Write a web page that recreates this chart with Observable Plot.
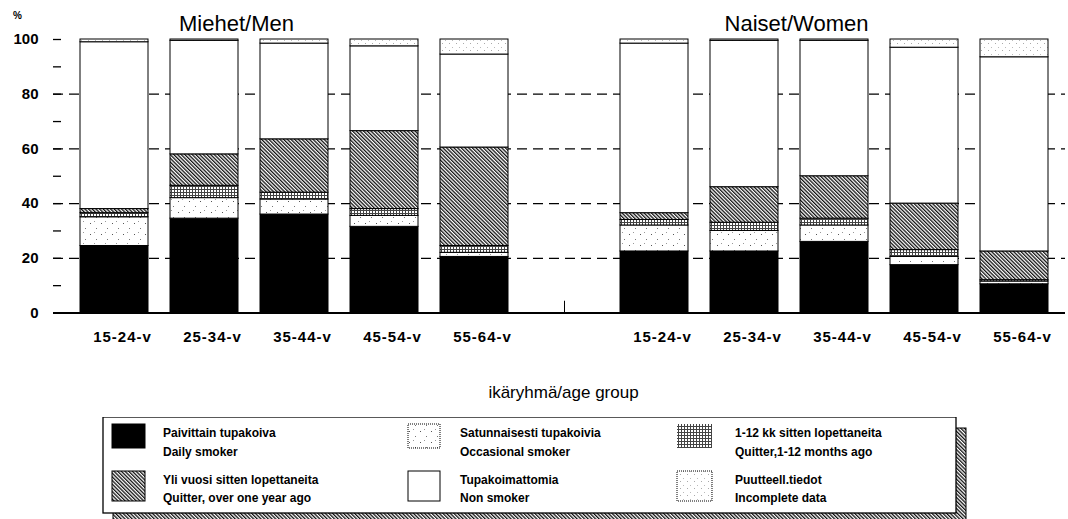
<!DOCTYPE html>
<html><head><meta charset="utf-8">
<script src="https://cdn.jsdelivr.net/npm/d3@7"></script>
<script src="https://cdn.jsdelivr.net/npm/@observablehq/plot@0.6"></script>
<style>
body{margin:0;background:#fff;font-family:"Liberation Sans",Arial,sans-serif;}
#wrap{position:relative;width:1068px;height:519px;overflow:hidden;background:#fff;}
#chart svg{display:block;}
#legend{position:absolute;left:0;top:417px;width:1068px;height:102px;}
</style></head><body><div id="wrap"><div id="chart"></div><div id="legend"></div></div>
<script>
// ---- data ----
const ages = ["15-24-v", "25-34-v", "35-44-v", "45-54-v", "55-64-v"];
const groupTitles = ["Miehet/Men", "Naiset/Women"];
const categories = ["Daily smoker", "Occasional smoker", "Quitter,1-12 months ago", "Quitter, over one year ago", "Non smoker", "Incomplete data"];
const categoriesFi = ["Paivittain tupakoiva", "Satunnaisesti tupakoivia", "1-12 kk sitten lopettaneita", "Yli vuosi sitten lopettaneita", "Tupakoimattomia", "Puutteell.tiedot"];
const yLabels = [0, 20, 40, 60, 80, 100];
const xTitle = "ikäryhmä/age group";

const menDaily      = [24.5, 34.5, 36, 31.5, 20.5];
const menOccasional = [10.5, 7.5, 5.5, 4, 1.5];
const menMonths     = [1.5, 4.5, 2.5, 2.5, 2.5];
const menYear       = [1.5, 11.5, 19.5, 28.5, 36];
const menNon        = [61, 41.5, 35, 31, 34];
const menIncomplete = [1, 0.5, 1.5, 2.5, 5.5];

const womenDaily      = [22.5, 22.5, 26, 17.5, 10.5];
const womenOccasional = [9.5, 7.5, 6, 3, 1];
const womenMonths     = [2, 3, 2.5, 2.5, 0.5];
const womenYear       = [2.5, 13, 15.5, 17, 10.5];
const womenNon        = [62, 53.5, 49.5, 57, 71];
const womenIncomplete = [1.5, 0.5, 0.5, 3, 6.5];

// ---- build table ----
const menSeries = [menDaily, menOccasional, menMonths, menYear, menNon, menIncomplete];
const womenSeries = [womenDaily, womenOccasional, womenMonths, womenYear, womenNon, womenIncomplete];
const spacer = "gap";
const keys = [...ages.map(a => "M|" + a), spacer, ...ages.map(a => "W|" + a)];
const rows = [];
[["M", menSeries], ["W", womenSeries]].forEach(([s, series]) =>
  ages.forEach((a, ai) => series.forEach((vals, ci) =>
    rows.push({key: s + "|" + a, category: categories[ci], value: vals[ai]}))));

const fills = ["#000", "url(#pOcc)", "url(#pMonth)", "url(#pYear)", "#fff", "url(#pInc)"];
const font = "'Liberation Sans', Arial, sans-serif";
const W = 1068, mL = 53, mR = 3;

const plot = Plot.plot({
  width: W, height: 417,
  marginLeft: mL, marginRight: mR, marginTop: 39, marginBottom: 104.5,
  style: {fontFamily: font, background: "#fff", color: "#000", overflow: "visible"},
  x: {domain: keys, range: [78, 1051], paddingInner: 0.24, paddingOuter: 0},
  y: {domain: [0, 100]},
  color: {domain: categories, range: fills},
  marks: [
    Plot.ruleY([20, 40, 60, 80], {stroke: "#000", strokeWidth: 1.3, strokeDasharray: "10,6"}),
    Plot.ruleY(d3.range(10, 101, 10), {insetRight: W - mL - mR - 8, stroke: "#000", strokeWidth: 1.3}),
    Plot.barY(rows, {x: "key", y: "value", fill: "category", stroke: "#000", strokeWidth: 1}),
    Plot.ruleY([0], {stroke: "#000", strokeWidth: 1.8}),
    Plot.ruleX([spacer], {x: d => d, y1: 0, y2: 4.3, stroke: "#000", strokeWidth: 1}),
    Plot.axisY({ticks: yLabels, tickSize: 0, tickPadding: 15, line: true, label: null, fontSize: 15, fontWeight: "bold"}),
    Plot.axisX({tickSize: 0, tickPadding: 18, label: null, fontSize: 15, fontWeight: "bold", dx: 8,
      tickFormat: d => d.includes("|") ? d.split("|")[1] : ""}),
    Plot.text([{k: "M|25-34-v", t: groupTitles[0]}], {x: "k", text: "t", frameAnchor: "top", dy: -16, dx: 32, fontSize: 22, lineAnchor: "middle"}),
    Plot.text([{k: "W|25-34-v", t: groupTitles[1]}], {x: "k", text: "t", frameAnchor: "top", dy: -16, dx: 52, fontSize: 22, lineAnchor: "middle"}),
    Plot.text([xTitle], {frameAnchor: "bottom", dy: 79.5, dx: 4, fontSize: 17, lineAnchor: "middle", textAnchor: "middle"}),
    Plot.text(["%"], {frameAnchor: "top-left", dx: -36, dy: -24, fontSize: 10, fontWeight: "bold", lineAnchor: "middle", textAnchor: "middle"})
  ]
});

// pattern definitions
const ns = "http://www.w3.org/2000/svg";
const defs = document.createElementNS(ns, "defs");
defs.innerHTML = `
<pattern id="pOcc" width="11" height="11" patternUnits="userSpaceOnUse">
  <rect width="11" height="11" fill="#fff"/>
  <rect x="2" y="3" width="1" height="1" fill="#555"/>
  <rect x="8" y="8" width="1" height="1" fill="#777"/>
  <rect x="6" y="1" width="1" height="1" fill="#999"/>
</pattern>
<pattern id="pInc" width="7" height="7" patternUnits="userSpaceOnUse">
  <rect width="7" height="7" fill="#fff"/>
  <rect x="1" y="1" width="1" height="1" fill="#aaa"/>
  <rect x="4" y="5" width="1" height="1" fill="#bbb"/>
</pattern>
<pattern id="pMonth" width="3" height="3" patternUnits="userSpaceOnUse">
  <rect width="3" height="3" fill="#fff"/>
  <rect width="3" height="1" fill="#444"/>
  <rect width="1" height="3" fill="#444"/>
</pattern>
<pattern id="pYear" width="2.6" height="2.6" patternUnits="userSpaceOnUse" patternTransform="rotate(-45)">
  <rect width="2.6" height="2.6" fill="#fff"/>
  <rect width="1.3" height="2.6" fill="#111"/>
</pattern>`;
plot.insertBefore(defs, plot.firstChild);
document.getElementById("chart").appendChild(plot);

// letter spacing of tick labels to match the scanned type
plot.querySelectorAll('[aria-label="x-axis tick label"] text').forEach(t => t.setAttribute("letter-spacing", "1"));

// ---- legend ----
const leg = d3.select("#legend").append("svg").attr("width", W).attr("height", 102)
  .style("display", "block").style("font-family", font);
leg.append("rect").attr("x", 113).attr("y", 11).attr("width", 853).attr("height", 96)
  .attr("fill", "url(#pYear)").attr("stroke", "#000").attr("stroke-width", 1);
leg.append("rect").attr("x", 103).attr("y", 0).attr("width", 853).attr("height", 96)
  .attr("fill", "#fff").attr("stroke", "#000").attr("stroke-width", 1.3);
const cols = [{sx: 112, sw: 33, tx: 163}, {sx: 408, sw: 32, tx: 460}, {sx: 677, sw: 35, tx: 735}];
const rowsL = [{sy: 7, sh: 24, ty: [16, 35]}, {sy: 54, sh: 30, ty: [63, 81]}];
const layout = [[0, 0], [1, 0], [2, 0], [0, 1], [1, 1], [2, 1]]; // category -> [col,row]
const swStroke = ["#000", "#000", "none", "#000", "#000", "#000"];
const swDash = [null, "1,1", null, null, null, "1,1"];
categories.forEach((cat, ci) => {
  const [c, r] = layout[ci];
  const col = cols[c], row = rowsL[r];
  leg.append("rect").attr("x", col.sx).attr("y", row.sy).attr("width", col.sw).attr("height", row.sh)
    .attr("fill", fills[ci]).attr("stroke", swStroke[ci]).attr("stroke-width", 1)
    .attr("stroke-dasharray", swDash[ci]);
  [categoriesFi[ci], cat].forEach((txt, li) => {
    leg.append("text").attr("x", col.tx).attr("y", row.ty[li]).attr("dy", "0.35em")
      .attr("font-size", 12).attr("font-weight", "bold").text(txt);
  });
});
</script></body></html>
